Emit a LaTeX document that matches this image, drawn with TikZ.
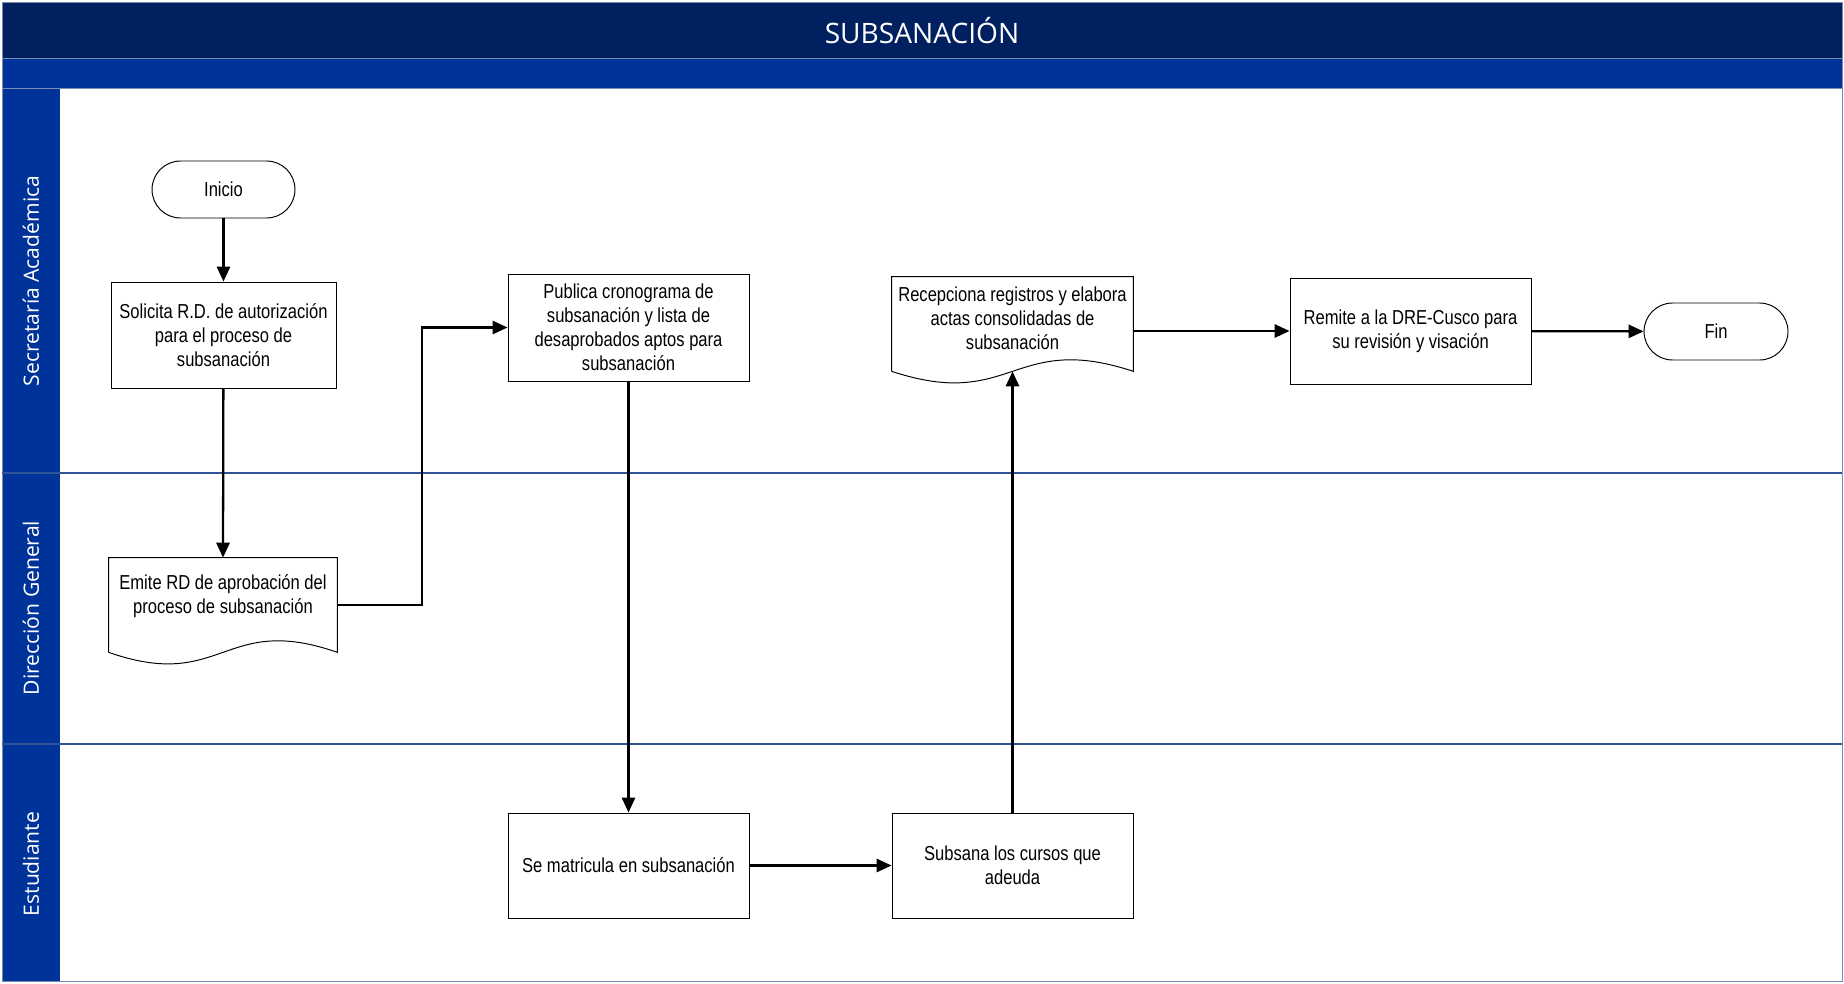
\documentclass[tikz,border=0pt]{standalone}
\usepackage{fontspec}
\setmainfont{Liberation Sans}[FakeStretch=0.82]
\newfontfamily\carrilfont{Open Sans}
\usetikzlibrary{arrows.meta}

\definecolor{azuloscuro}{RGB}{0,32,96}
\definecolor{azul}{RGB}{0,51,153}
\definecolor{linea}{RGB}{47,85,151}
\definecolor{borde}{RGB}{120,140,180}

\newcommand\texto{\fontsize{11.5pt}{13.6pt}\selectfont}

\begin{document}
\begin{tikzpicture}[x=0.02cm, y=-0.02cm,
        caja/.style={draw, line width=0.55pt, minimum width=4.82cm, minimum height=2.12cm, align=center, font=\texto},
        terminal/.style={draw, line width=0.55pt, rounded corners=0.57cm, minimum width=2.86cm, minimum height=1.14cm, font=\texto},
        documento/.style={minimum width=4.82cm, minimum height=1.88cm},
        flecha/.style={-{Triangle[length=8.5pt,width=7.5pt]}, line width=1.3pt}]

        \useasboundingbox (0,0) rectangle (1844,983);

        % Bandas
        \fill [azuloscuro] (2,2) rectangle (1842,58);
        \fill [azul] (2,58) rectangle (1842,88);
        \fill [azul] (2,88) rectangle (60,981);
        \draw [borde] (2,2) rectangle (1842,981);
        \draw [borde] (2,58) -- (1842,58);
        \draw [borde] (2,88) -- (1842,88);
        \foreach \y in {473, 744}
            \draw [linea, line width=0.8pt] (2,\y) -- (1842,\y);

        \node [text=white, font=\carrilfont\fontsize{16pt}{19pt}\selectfont] (titulo) at (922,31) {SUBSANACIÓN};

        % Carriles
        \foreach \y/\carril/\nombre in {281/Secretaría Académica/secretaria, 608/Dirección General/direccion, 864/Estudiante/estudiante}
            \node [rotate=90, text=white, font=\carrilfont\fontsize{12pt}{14pt}\selectfont] (\nombre) at (31,\y) {\carril};

        % Pasos
        \node [terminal] (inicio) at (223.5,189.5) {Inicio};
        \node [caja, minimum width=4.5cm] (solicita) at (223.5,335) {Solicita R.D. de autorización\\para el proceso de\\subsanación};
        \node [documento, minimum width=4.56cm, label={[font=\texto, align=center, yshift=0.18cm]center:{Emite RD de aprobación del\\proceso de subsanación}}] (emite) at (223,605) {};
        \node [caja, minimum height=2.14cm] (publica) at (628.5,327.5) {Publica cronograma de\\subsanación y lista de\\desaprobados aptos para\\subsanación};
        \node [caja, minimum height=2.1cm] (matricula) at (628.5,865.5) {Se matricula en subsanación};
        \node [caja, minimum height=2.1cm] (subsana) at (1012.5,865.5) {Subsana los cursos que\\adeuda};
        \node [documento, label={[font=\texto, align=center, yshift=0.12cm]center:{Recepciona registros y elabora\\actas consolidadas de\\subsanación}}] (recepciona) at (1012.5,324) {};
        \node [caja] (remite) at (1410.5,331) {Remite a la DRE-Cusco para\\su revisión y visación};
        \node [terminal, minimum width=2.88cm] (fin) at (1716,331.5) {Fin};

        % Documentos con borde ondulado
        \foreach \doc in {emite, recepciona}
            \draw [line width=0.55pt] (\doc.south west) -- (\doc.north west) -- (\doc.north east) -- (\doc.south east)
                .. controls ([yshift=0.8cm]\doc.south) and ([yshift=-0.8cm]\doc.south) .. (\doc.south west);

        % Conectores
        \draw [flecha] (inicio) -- (solicita);
        \draw [flecha] (solicita) -- (emite.north);
        \draw [flecha] (emite.east) -- ++(85,0) |- (publica.west);
        \draw [flecha] (publica) -- (matricula);
        \draw [flecha] (matricula) -- (subsana);
        \draw [flecha] (subsana) -- (recepciona.south);
        \draw [flecha] (recepciona.east |- remite.west) -- (remite.west);
        \draw [flecha] (remite) -- (fin);

\end{tikzpicture}
\end{document}
